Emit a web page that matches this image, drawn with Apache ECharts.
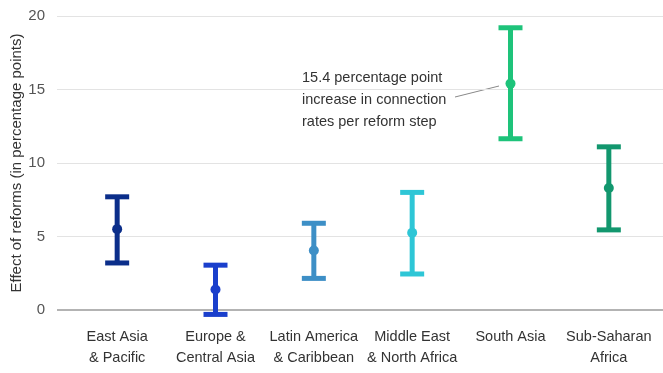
<!DOCTYPE html>
<html lang="en">
<head>
    <meta charset="UTF-8">
    <title>Effect of reforms</title>
    <script src="https://cdn.jsdelivr.net/npm/echarts@6/dist/echarts.min.js"></script>
</head>
<body style="margin:0;">
<div id="main" style="width: 663px; height: 373px;"></div>
</body>
<script>
    // data
    var categories = ['East Asia\n& Pacific', 'Europe &\nCentral Asia', 'Latin America\n& Caribbean',
        'Middle East\n& North Africa', 'South Asia', 'Sub-Saharan\nAfrica']
    var estimate = [5.5, 1.4, 4.05, 5.25, 15.4, 8.3]
    var lower = [3.2, -0.3, 2.15, 2.45, 11.65, 5.45]
    var upper = [7.7, 3.05, 5.9, 8.0, 19.2, 11.1]
    var colors = ['#0b2e8a', '#1a3fcc', '#3d8fc6', '#2ec6d6', '#1ec37a', '#12976e']
    var yTicks = [0, 5, 10, 15, 20]

    var font = 'Liberation Sans, Arial, sans-serif'

    var myChart = echarts.init(document.getElementById('main'))

    var seriesData = categories.map(function (c, i) {
        return [i, lower[i], upper[i], estimate[i]]
    })

    var option = {
        textStyle: { fontFamily: font },
        grid: [
            // background grid: gridlines span wider than the plot
            { left: 57, right: 0, top: 16, bottom: 63, outerBoundsMode: 'none', containLabel: false },
            // plot grid
            { left: 68, right: 5, top: 16, bottom: 63, outerBoundsMode: 'none', containLabel: false }
        ],
        xAxis: [
            { gridIndex: 0, type: 'value', show: false, min: 0, max: 1 },
            {
                gridIndex: 1,
                type: 'category',
                data: categories,
                axisLine: { show: false },
                axisTick: { show: false },
                axisLabel: {
                    color: '#333',
                    fontSize: 14.5,
                    lineHeight: 21,
                    margin: 16,
                    interval: 0
                }
            }
        ],
        yAxis: [
            {
                gridIndex: 0,
                type: 'value',
                min: yTicks[0],
                max: yTicks[yTicks.length - 1],
                interval: 5,
                name: 'Effect of reforms (in percentage points)',
                nameLocation: 'middle',
                nameGap: 33,
                nameMoveOverlap: false,
                nameTextStyle: { color: '#333', fontSize: 15 },
                axisLine: { show: false },
                axisTick: { show: false },
                axisLabel: { color: '#555', fontSize: 15, margin: 12 },
                splitLine: { lineStyle: { color: '#e3e3e3', width: 1 } }
            },
            {
                gridIndex: 1,
                type: 'value',
                min: yTicks[0],
                max: yTicks[yTicks.length - 1],
                show: false,
                splitLine: { show: false }
            }
        ],
        series: [
            {
                // zero line
                type: 'line',
                xAxisIndex: 0,
                yAxisIndex: 0,
                data: [[0, 0], [1, 0]],
                symbol: 'none',
                silent: true,
                lineStyle: { color: '#b3b3b3', width: 2 },
                z: 1
            },
            {
                type: 'custom',
                xAxisIndex: 1,
                yAxisIndex: 1,
                data: seriesData,
                z: 3,
                renderItem: function (params, api) {
                    var x = api.value(0)
                    var lo = api.coord([x, api.value(1)])
                    var hi = api.coord([x, api.value(2)])
                    var mid = api.coord([x, api.value(3)])
                    var half = 12
                    var col = colors[params.dataIndex]
                    var ls = { stroke: col, lineWidth: 5 }
                    return {
                        type: 'group',
                        children: [
                            { type: 'line', shape: { x1: hi[0], y1: hi[1], x2: lo[0], y2: lo[1] }, style: ls },
                            { type: 'line', shape: { x1: hi[0] - half, y1: hi[1], x2: hi[0] + half, y2: hi[1] }, style: ls },
                            { type: 'line', shape: { x1: lo[0] - half, y1: lo[1], x2: lo[0] + half, y2: lo[1] }, style: ls },
                            { type: 'circle', shape: { cx: mid[0], cy: mid[1], r: 5 }, style: { fill: col } }
                        ]
                    }
                }
            }
        ],
        graphic: [
            {
                type: 'text',
                left: 302,
                top: 67,
                style: {
                    text: '15.4 percentage point\nincrease in connection\nrates per reform step',
                    fill: '#333',
                    fontSize: 14.5,
                    lineHeight: 22,
                    fontFamily: font
                }
            },
            {
                type: 'line',
                shape: { x1: 455, y1: 97, x2: 499, y2: 86 },
                style: { stroke: '#888', lineWidth: 1 }
            }
        ]
    }
    myChart.setOption(option)
</script>
</html>
